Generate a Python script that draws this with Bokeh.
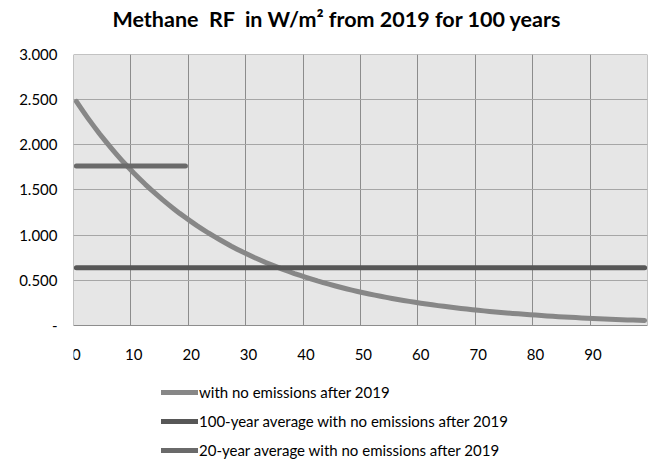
from bokeh.plotting import figure
from bokeh.models import BoxAnnotation, FixedTicker, Grid, Legend, LegendItem, Range1d, Title
from bokeh.embed import file_html
from bokeh.resources import INLINE

# ---- data ----
years = list(range(100))
rf_no_emissions = [
    2.480, 2.386, 2.296, 2.210, 2.126, 2.046, 1.969, 1.895, 1.823, 1.754,
    1.688, 1.625, 1.563, 1.504, 1.448, 1.393, 1.341, 1.290, 1.241, 1.195,
    1.150, 1.106, 1.065, 1.024, 0.986, 0.949, 0.913, 0.878, 0.845, 0.813,
    0.783, 0.753, 0.725, 0.697, 0.671, 0.646, 0.621, 0.598, 0.575, 0.554,
    0.533, 0.513, 0.493, 0.475, 0.457, 0.440, 0.423, 0.407, 0.392, 0.377,
    0.363, 0.349, 0.336, 0.323, 0.311, 0.299, 0.288, 0.277, 0.267, 0.257,
    0.247, 0.238, 0.229, 0.220, 0.212, 0.204, 0.196, 0.189, 0.182, 0.175,
    0.168, 0.162, 0.156, 0.150, 0.144, 0.139, 0.134, 0.129, 0.124, 0.119,
    0.115, 0.110, 0.106, 0.102, 0.098, 0.095, 0.091, 0.088, 0.084, 0.081,
    0.078, 0.075, 0.072, 0.069, 0.067, 0.064, 0.062, 0.060, 0.057, 0.055,
]
avg_100 = [0.640] * 100
years_20 = list(range(20))
avg_20 = [1.765] * 20

x_tick_labels = ["0", "10", "20", "30", "40", "50", "60", "70", "80", "90"]
y_ticks = [0.0, 0.5, 1.0, 1.5, 2.0, 2.5, 3.0]
y_tick_labels = ["-", "0.500", "1.000", "1.500", "2.000", "2.500", "3.000"]

series_names = [
    "with no emissions after 2019",
    "100-year average with no emissions after 2019",
    "20-year average with no emissions after 2019",
]
title_text = "Methane\u00a0 RF\u00a0 in W/m\u00b2 from 2019 for 100 years"

FONT = "Lato"
X_MAX = 100
Y_MAX = 3.0

# category centres
xc = [y + 0.5 for y in years]
xc20 = [y + 0.5 for y in years_20]

# the frame reaches down to the page bottom so that the legend under the
# plot area can live inside it; the plot area itself is 0..3
p = figure(
    width=648, height=459, output_backend="svg", toolbar_location=None,
    x_range=Range1d(0, X_MAX), y_range=Range1d(-1.4834, Y_MAX),
    min_border_left=73, min_border_right=1, min_border_top=0, min_border_bottom=0,
    background_fill_color="white", border_fill_color="white",
    outline_line_color=None,
)

# spacer between frame and title (closest to the frame), then the title
p.add_layout(Title(text=" ", text_font_size="1px", standoff=13), "above")
p.add_layout(Title(text=title_text, align="left", offset=39, text_font=FONT,
                   text_font_size="21.5px", text_font_style="bold",
                   text_color="#000000", vertical_align="top", standoff=10), "above")

# plot area background
p.add_layout(BoxAnnotation(left=0, right=X_MAX, bottom=0, top=Y_MAX, level="image",
                           fill_color="#e6e6e6", fill_alpha=1, line_color=None))

# axes
xt = [i * 10 + 0.5 for i in range(len(x_tick_labels))]
p.xaxis.ticker = FixedTicker(ticks=xt)
p.xaxis.major_label_overrides = {t: lab for t, lab in zip(xt, x_tick_labels)}
p.xaxis.fixed_location = 0
p.yaxis.ticker = FixedTicker(ticks=y_ticks)
p.yaxis.major_label_overrides = {t: lab for t, lab in zip(y_ticks, y_tick_labels)}
for ax in (p.xaxis[0], p.yaxis[0]):
    ax.axis_line_color = None
    ax.major_tick_line_color = None
    ax.minor_tick_line_color = None
    ax.major_tick_out = 0
    ax.major_tick_in = 0
    ax.major_label_text_font = FONT
    ax.major_label_text_font_size = "15px"
    ax.major_label_text_color = "#000000"
p.xaxis.major_label_standoff = 24
p.yaxis.major_label_standoff = 16

# grids
p.xgrid.visible = False
p.ygrid.visible = False
p.add_layout(Grid(dimension=0, ticker=FixedTicker(ticks=list(range(0, X_MAX + 1, 10))),
                  grid_line_color="#8c8c8c", grid_line_width=1))
p.add_layout(Grid(dimension=1, ticker=FixedTicker(ticks=y_ticks),
                  bounds=(0, X_MAX), grid_line_color="#a6a6a6", grid_line_width=1))

# white mask below the plot area (hides the vertical grid lines there)
p.add_layout(BoxAnnotation(top=0, level="underlay", fill_color="white", fill_alpha=1,
                           line_color=None))
# plot area border
p.add_layout(BoxAnnotation(left=0, right=X_MAX, bottom=0, top=Y_MAX, level="underlay",
                           fill_alpha=0, line_color="#8c8c8c", line_width=1, line_alpha=1))

# series
r1 = p.line(xc, rf_no_emissions, line_color="#878787", line_width=5, line_cap="round", line_join="round")
r2 = p.line(xc, avg_100, line_color="#575757", line_width=5, line_cap="round")
r3 = p.line(xc20, avg_20, line_color="#6a6a6a", line_width=5, line_cap="round")

legend = Legend(
    items=[LegendItem(label=n, renderers=[r]) for n, r in zip(series_names, [r1, r2, r3])],
    location=(88, 0), orientation="vertical",
    padding=0, margin=0, spacing=11, label_height=18, glyph_height=18, glyph_width=37,
    label_standoff=1, label_text_font=FONT, label_text_font_size="15px",
    label_text_color="#000000", background_fill_alpha=0, border_line_color=None,
)
p.add_layout(legend, "center")

open("out.html", "w").write(file_html(p, INLINE))
